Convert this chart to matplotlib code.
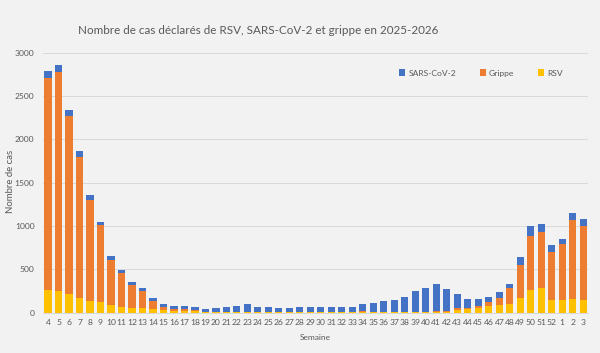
import matplotlib
matplotlib.use("Agg")
import matplotlib.pyplot as plt
import numpy as np

weeks = [str(w) for w in range(4, 53)] + ["1", "2", "3"]

rsv = [260, 255, 220, 175, 135, 120, 90, 70, 60, 50, 40, 30, 22, 20, 15, 5, 5, 4, 4, 4,
       3, 3, 3, 3, 3, 3, 3, 3, 3, 4, 8, 5, 5, 5, 5, 6, 6, 8, 10, 30,
       40, 50, 77, 92, 100, 173, 266, 289, 146, 146, 154, 146]
grippe = [2450, 2520, 2045, 1625, 1165, 890, 520, 385, 260, 205, 95, 40, 25, 25, 20, 5, 5, 4, 3, 3,
          3, 3, 2, 2, 2, 2, 2, 2, 3, 3, 10, 5, 5, 5, 6, 8, 8, 10, 10, 20,
          18, 31, 42, 81, 189, 381, 623, 643, 559, 643, 916, 859]
sars = [80, 82, 75, 67, 55, 37, 44, 38, 34, 26, 30, 34, 26, 35, 27, 36, 44, 61, 70, 89,
        59, 59, 53, 45, 57, 57, 57, 60, 63, 62, 86, 102, 121, 136, 170, 236, 275, 309, 257, 166,
        104, 77, 62, 66, 46, 89, 112, 88, 73, 66, 77, 73]

yticks = [0, 500, 1000, 1500, 2000, 2500, 3000]

c_sars = "#4472C4"
c_grippe = "#ED7D31"
c_rsv = "#FFC000"
bg = "#F2F2F2"
txt = "#595959"

plt.rcParams['font.family'] = ['Lato', 'DejaVu Sans']

fig = plt.figure(figsize=(6.0, 3.53), dpi=100, facecolor=bg)
ax = fig.add_axes([0.0713, 0.114, 0.9095, 0.737], facecolor=bg)

x = np.arange(len(weeks))
rsv_a = np.array(rsv)
gr_a = np.array(grippe)
sa_a = np.array(sars)
w = 0.68
ax.bar(x, rsv_a, width=w, color=c_rsv, label="RSV", zorder=3)
ax.bar(x, gr_a, width=w, bottom=rsv_a, color=c_grippe, label="Grippe", zorder=3)
ax.bar(x, sa_a, width=w, bottom=rsv_a + gr_a, color=c_sars, label="SARS-CoV-2", zorder=3)

ax.set_xlim(-0.5, len(weeks) - 0.5)
ax.set_ylim(0, 3000)
ax.set_yticks(yticks)
ax.set_yticklabels([str(v) for v in yticks])
ax.set_xticks(x)
ax.set_xticklabels(weeks)
ax.tick_params(axis='both', length=0, colors=txt, labelsize=6.1)
ax.tick_params(axis='y', pad=6)
ax.tick_params(axis='x', pad=4.5)
ax.grid(axis='y', color="#D9D9D9", linewidth=0.7, zorder=0)
for s in ['top', 'right', 'left']:
    ax.spines[s].set_visible(False)
ax.spines['bottom'].set_color("#D9D9D9")
ax.spines['bottom'].set_linewidth(0.7)

fig.text(315.6 / 600, 1 - 338 / 353, "Semaine", color=txt, fontsize=6.0,
         ha='center', va='center')
fig.text(10.7 / 600, 1 - 181 / 353, "Nombre de cas", color=txt, fontsize=6.9,
         ha='center', va='center', rotation=90)

fig.text(258 / 600, 1 - 30 / 353,
         "Nombre de cas déclarés de RSV, SARS-CoV-2 et grippe en 2025-2026",
         color=txt, fontsize=8.4, ha='center', va='center')

handles, labels = ax.get_legend_handles_labels()
order = [2, 1, 0]
leg = fig.legend([handles[i] for i in order], [labels[i] for i in order],
                 loc='center left', bbox_to_anchor=(399 / 600, 1 - 73 / 353), ncol=3,
                 frameon=False, borderpad=0, borderaxespad=0,
                 fontsize=6.1, handlelength=0.75, handleheight=0.75, handletextpad=0.35,
                 columnspacing=2.8, labelcolor=txt)

fig.savefig("out.png", dpi=100, facecolor=bg)
